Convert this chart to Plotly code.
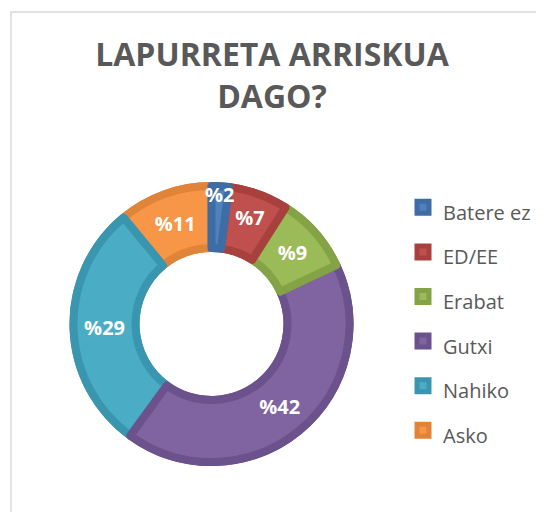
import plotly.graph_objects as go

labels = ["Batere ez", "ED/EE", "Erabat", "Gutxi", "Nahiko", "Asko"]
values = [2, 7, 9, 42, 29, 11]
main_colors = ["#4F81BD", "#C0504D", "#9BBB59", "#8064A2", "#4BACC6", "#F79646"]
edge_colors = ["#3E6DA6", "#A8413E", "#84A246", "#6B528C", "#3A96AF", "#E0843A"]
title_text = "LAPURRETA ARRISKUA<br>DAGO?"

W, H = 544, 512
OFF = 8.0  # page body margin
cx, cy, R, r = 211.5 - OFF, 324.0 - OFF, 142.0, 72.0
inset = 4.0

def dom(rad):
    return dict(x=[(cx - rad) / W, (cx + rad) / W],
                y=[1 - (cy + rad) / H, 1 - (cy - rad) / H])

# reversed order + counterclockwise gives same layout but draws the small first slice last
rl, rv = labels[::-1], values[::-1]
rmc, rec = main_colors[::-1], edge_colors[::-1]
# plotly's counterclockwise mode makes the first slice END at the rotation angle
rot = -360.0 * rv[0] / sum(rv)

fig = go.Figure()
fig.add_trace(go.Pie(
    labels=rl, values=rv, sort=False, direction="counterclockwise", rotation=rot,
    hole=r / R, domain=dom(R), marker=dict(colors=rec, line=dict(width=0)),
    textinfo="none", hoverinfo="skip", showlegend=False,
))
fig.add_trace(go.Pie(
    labels=[f'<span style="font-size:20px">{l}</span>' for l in rl],
    values=rv, sort=False, direction="counterclockwise", rotation=rot,
    hole=(r + inset) / (R - inset), domain=dom(R - inset),
    marker=dict(colors=rmc, line=dict(color=rec, width=2 * inset)),
    texttemplate="%%{value}", textposition="inside", insidetextorientation="horizontal",
    textfont=dict(family="Open Sans", size=20, color="white", weight="bold"),
    showlegend=True,
))

fig.update_layout(
    width=W, height=H, margin=dict(l=0, r=0, t=0, b=0),
    paper_bgcolor="white", plot_bgcolor="white",
    uniformtext=dict(minsize=20, mode="show"),
    title=dict(text=title_text, x=(272 - OFF) / W, xanchor="center", y=1 - 58 / H, yanchor="top",
               font=dict(family="Open Sans", size=32, color="#595959", weight="bold")),
    legend=dict(x=395 / W, xanchor="left", y=1 - 172 / H, yanchor="top",
                traceorder="reversed",
                font=dict(family="Open Sans", size=32, color="#595959"),
                bgcolor="rgba(0,0,0,0)"),
    shapes=[dict(type="rect", xref="paper", yref="paper",
                 x0=(11 - OFF) / W, x1=1.05, y0=-0.05, y1=1 - (12 - OFF) / H,
                 line=dict(color="#D9D9D9", width=1.5), fillcolor="rgba(0,0,0,0)", layer="below")],
)

fig.write_html("out.html")
